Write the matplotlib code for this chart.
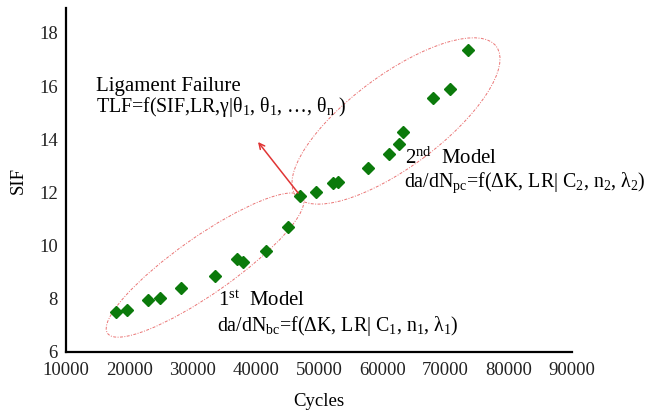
import numpy as np
import matplotlib.pyplot as plt
from matplotlib.patches import Ellipse
import matplotlib.transforms as mtransforms

plt.rcParams['font.family'] = ['Liberation Serif', 'DejaVu Serif']
plt.rcParams['mathtext.fontset'] = 'custom'
plt.rcParams['mathtext.rm'] = 'Liberation Serif'
plt.rcParams['mathtext.it'] = 'Liberation Serif:italic'

# --- dados ---
cycles = [17830, 19640, 22960, 24860, 28180, 33560, 37040, 37980, 41620, 45100,
          46920, 49530, 52210, 53080, 57750, 60990, 62650, 63280, 68020, 70710, 73560]
sif = [7.52, 7.58, 7.96, 8.03, 8.41, 8.86, 9.50, 9.39, 9.80, 10.70,
       11.85, 12.02, 12.36, 12.40, 12.92, 13.45, 13.82, 14.27, 15.56, 15.89, 17.36]

x_ticks = [10000, 20000, 30000, 40000, 50000, 60000, 70000, 80000, 90000]
y_ticks = [6, 8, 10, 12, 14, 16, 18]

# elipses: centro em dados, semi-eixos em pixels, angulo em graus
ellipse_1 = dict(center=(31980, 9.27), a=119, b=28.5, angle=35)
ellipse_2 = dict(center=(62170, 14.69), a=125, b=46, angle=36.6)

fig = plt.figure(figsize=(6.48, 4.13), dpi=100)
ax = fig.add_axes([66/648, 1 - 352/413, (572 - 66)/648, (352 - 8)/413])

ax.plot(cycles, sif, linestyle='none', marker='D', markersize=6.5,
        color='#0b7a0b', markeredgecolor='#0b7a0b')

ax.set_xlim(10000, 90000)
ax.set_ylim(6, 18.94)
ax.set_xticks(x_ticks)
ax.set_yticks(y_ticks)
ax.tick_params(length=0, labelsize=13.5, colors='#222222')
ax.tick_params(axis='x', pad=7)
ax.tick_params(axis='y', pad=6)

for s in ['top', 'right']:
    ax.spines[s].set_visible(False)
for s in ['left', 'bottom']:
    ax.spines[s].set_linewidth(1.6)
    ax.spines[s].set_color('black')

ax.set_xlabel('Cycles', fontsize=13.5, labelpad=10)
ax.set_ylabel('SIF', fontsize=13.5, labelpad=9)

# --- elipses tracejadas ---
for e in [ellipse_1, ellipse_2]:
    scale = fig.dpi / 100
    tr = (mtransforms.Affine2D().scale(scale)
          + mtransforms.ScaledTranslation(e['center'][0], e['center'][1], ax.transData))
    ell = Ellipse((0, 0), 2 * e['a'], 2 * e['b'], angle=e['angle'], transform=tr,
                  fill=False, edgecolor='#ea7474', linewidth=0.7,
                  linestyle=(0, (3, 1.5, 1, 1.5)))
    ax.add_patch(ell)

# --- seta ---
ax.annotate('', xy=(40360, 13.9), xytext=(46700, 11.98),
            arrowprops=dict(arrowstyle='->', color='#e03535', lw=1.1,
                            shrinkA=0, shrinkB=0))

# --- textos ---
fs = 15
fs_eq = 14.3
ax.text(14740, 15.97, 'Ligament Failure', fontsize=fs, va='center', ha='left')
ax.text(14740, 15.20, r'TLF=f(SIF,LR,γ|θ$_1$, θ$_1$, …, θ$_{\mathrm{n}}$ )',
        fontsize=fs_eq, va='center', ha='left')
ax.text(63600, 13.28, r'2$^{\mathrm{nd}}$  Model', fontsize=fs, va='center', ha='left')
ax.text(63440, 12.36, r'da/dN$_{\mathrm{pc}}$=f(ΔK, LR| C$_2$, n$_2$, λ$_2$)',
        fontsize=fs_eq, va='center', ha='left')
ax.text(34030, 7.90, r'1$^{\mathrm{st}}$  Model', fontsize=fs, va='center', ha='left')
ax.text(33870, 6.96, r'da/dN$_{\mathrm{bc}}$=f(ΔK, LR| C$_1$, n$_1$, λ$_1$)',
        fontsize=fs_eq, va='center', ha='left')

fig.savefig('out.png', dpi=100)
